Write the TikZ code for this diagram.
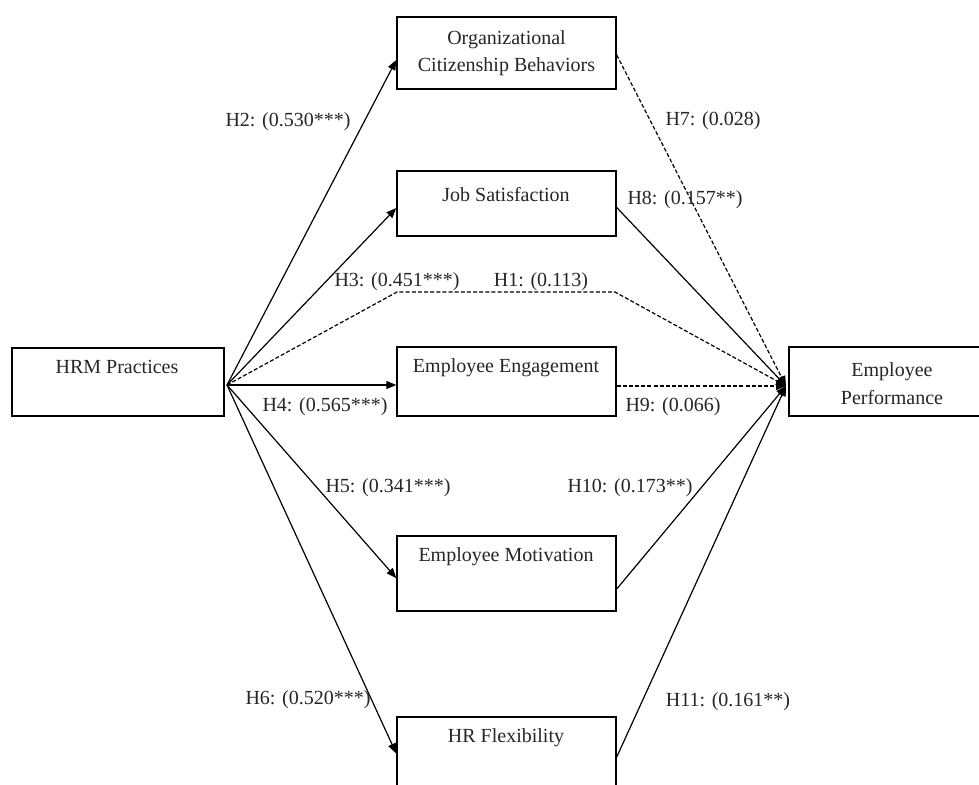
\documentclass[tikz,border=0pt]{standalone}
\usepackage{fontspec}
\setmainfont{Liberation Serif}
\usetikzlibrary{arrows.meta,calc}
\begin{document}
\begin{tikzpicture}[x=0.75pt,y=-0.75pt,
  box/.style={draw, line width=1.1pt, rectangle, inner sep=0pt},
  txt/.style={font=\fontsize{15}{20.5}\selectfont, inner sep=0pt, align=center, text=black!85},
  lab/.style={font=\fontsize{15}{18}\selectfont, inner sep=0pt, text=black!85},
  conn/.style={line width=0.9pt},
  tip/.style={-{Triangle[length=7.5pt,width=6pt]}},
  arr/.style={conn, tip},
  dsh/.style={line width=0.9pt, dash pattern=on 3pt off 1.6pt}]
\clip (0,0) rectangle (979,785);
\fill[white] (0,0) rectangle (979,785);

% boxes
\node[box, minimum width=159pt, minimum height=51pt] (hrm) at (118,382) {};
\node[box, minimum width=164.25pt, minimum height=54pt] (ocb) at (506.5,53) {};
\node[box, minimum width=164.25pt, minimum height=48.75pt] (js) at (506.5,203.5) {};
\node[box, minimum width=164.25pt, minimum height=51.75pt] (ee) at (506.5,381.5) {};
\node[box, minimum width=164.25pt, minimum height=56.25pt] (em) at (506.5,573.5) {};
\node[box, minimum width=164.25pt, minimum height=54.75pt] (hrf) at (506.5,753.5) {};
\node[box, minimum width=156pt, minimum height=51.75pt] (ep) at (893,381.5) {};

% box texts
\node[txt] (hrmt) at (117,367) {HRM Practices};
\node[txt] (ocbt) at (506.5,53) {Organizational\\Citizenship Behaviors};
\node[txt] (jst) at (506,195) {Job Satisfaction};
\node[txt] (eet) at (506,368) {Employee Engagement};
\node[txt] (emt) at (506,557) {Employee Motivation};
\node[txt] (hrft) at (506,738) {HR Flexibility};
\node[txt] (ept) at (892,383.5) {Employee\\Performance};

% hubs
\coordinate (h1) at (227,385);
\coordinate (h2) at (786,386);
\coordinate (b1) at (397,292);
\coordinate (b2) at (615,292);

% from HRM practices
\draw[arr] (h1) -- ([yshift=-5.25pt]ocb.west);
\draw[arr] (h1) -- ([yshift=-3.4pt]js.west);
\draw[dsh, tip] (h1) -- (b1) -- (b2) -- (h2);
\draw[arr] (h1) -- (h1 -| ee.west);
\draw[arr] (h1) -- ([yshift=-3.4pt]em.west);
\draw[arr] (h1) -- (hrf.west);

% to Employee Performance
\draw[dsh, tip] ([yshift=-1.5pt]ocb.east) -- (h2);
\draw[arr] ([yshift=-3pt]js.east) -- (h2);
\draw[dsh, tip] (ee.east |- h2) -- (h2);
\draw[arr] ([yshift=-11.6pt]em.east) -- (h2);
\draw[arr] ([yshift=-2.6pt]hrf.east) -- (h2);

% labels
\node[lab] (l2) at (288,122) {H2: (0.530***)};
\node[lab] (l7) at (713,121) {H7: (0.028)};
\node[lab] (l8) at (685,200) {H8: (0.157**)};
\node[lab] (l3) at (397,282) {H3: (0.451***)};
\node[lab] (l1) at (541,282) {H1: (0.113)};
\node[lab] (l4) at (325,407) {H4: (0.565***)};
\node[lab] (l9) at (673,407) {H9: (0.066)};
\node[lab] (l5) at (388,488) {H5: (0.341***)};
\node[lab] (l10) at (630,488) {H10: (0.173**)};
\node[lab] (l6) at (308,700) {H6: (0.520***)};
\node[lab] (l11) at (728,702) {H11: (0.161**)};
\end{tikzpicture}
\end{document}
